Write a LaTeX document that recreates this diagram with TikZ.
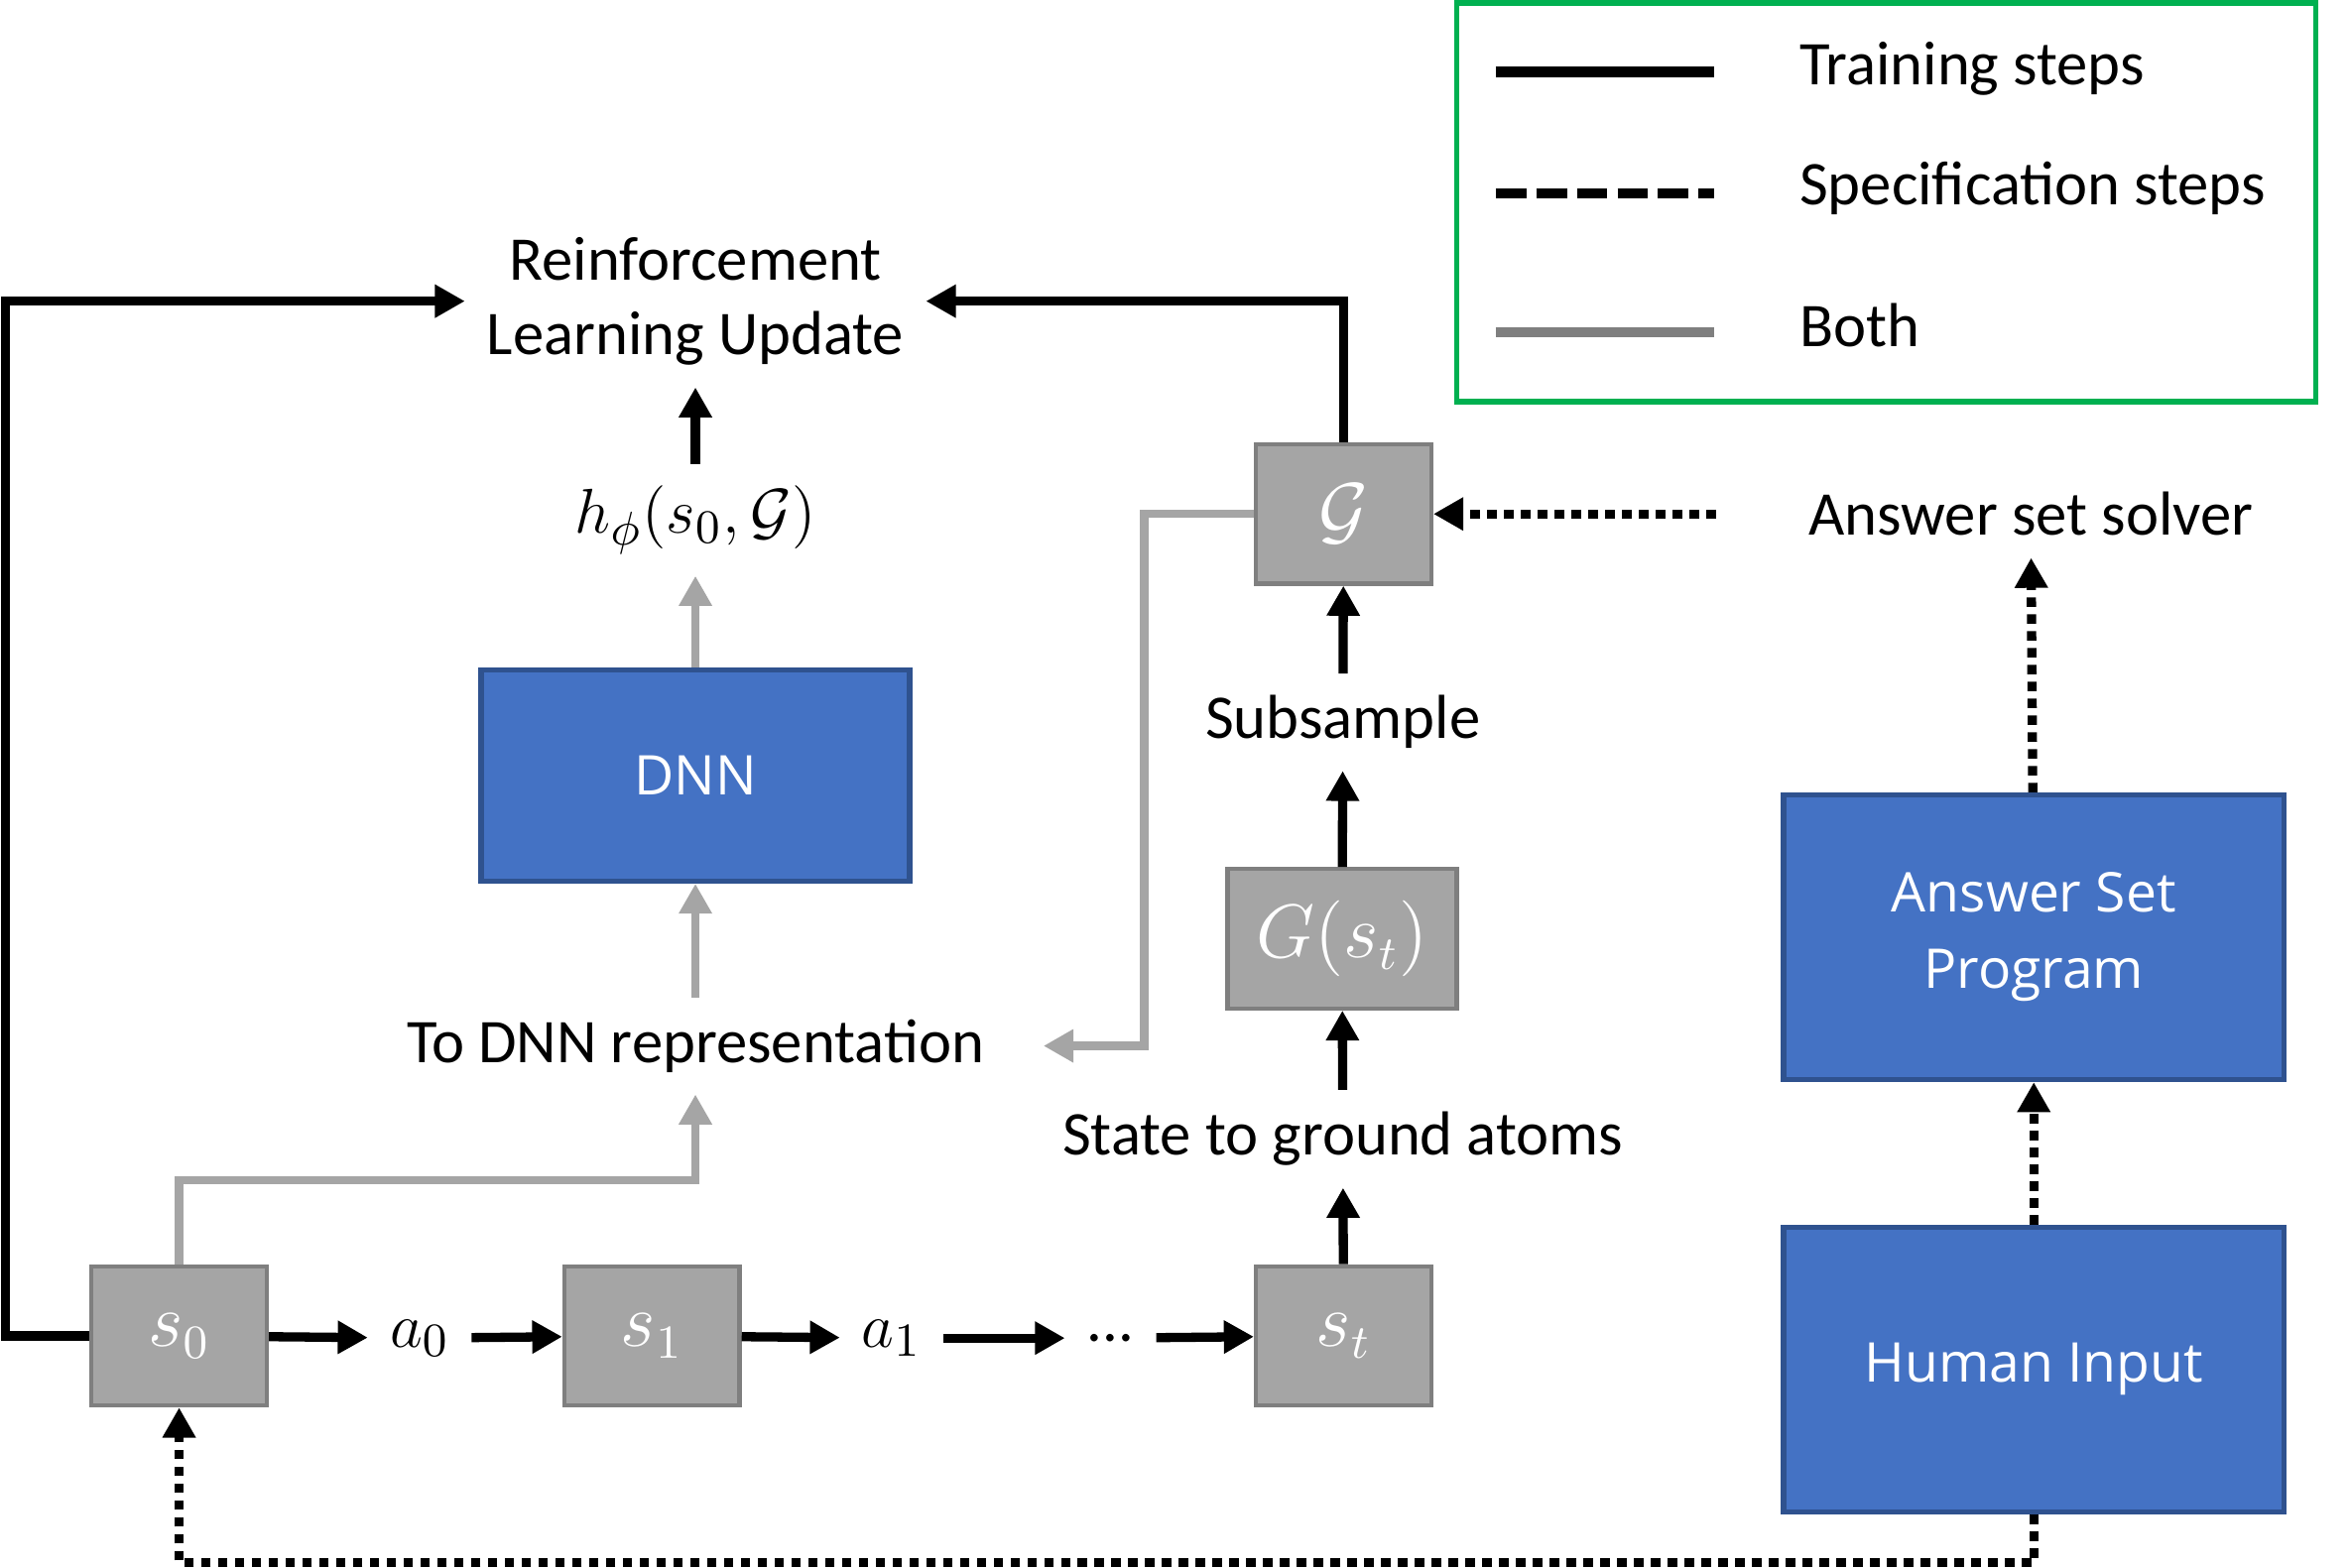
\documentclass[tikz,border=0pt]{standalone}
\usepackage{fontspec}
\setmainfont{Carlito}
\newfontfamily\boxfont{Open Sans}
\usetikzlibrary{arrows.meta}
\definecolor{boxblue}{HTML}{4472C4}
\definecolor{boxedge}{HTML}{2F528F}
\definecolor{stategray}{HTML}{A5A5A5}
\definecolor{stateedge}{HTML}{7F7F7F}
\definecolor{legendgreen}{HTML}{00B050}

\begin{document}
\begin{tikzpicture}[
  lbl/.style={font=\fontsize{11.8}{14.2}\selectfont,align=center,inner sep=4pt},
  mathlbl/.style={font=\fontsize{13}{15}\selectfont,inner sep=4pt},
  statebox/.style={draw=stateedge,fill=stategray,line width=0.8pt,text=white,
    font=\fontsize{13.5}{15}\selectfont,minimum width=1.17cm,minimum height=0.93cm},
  bluebox/.style={draw=boxedge,fill=boxblue,line width=1pt,text=white,
    align=center,font=\boxfont\fontsize{10.4}{14.5}\selectfont,
    minimum width=3.34cm,minimum height=1.9cm},
  train/.style={-{Triangle[length=2mm,width=2.1mm]},line width=1.75pt},
  spec/.style={train,dash pattern=on 1.8pt off 1.4pt},
  both/.style={train,draw=stategray,line width=1.6pt}]
\useasboundingbox (0,0) rectangle (15.68,-10.46);
% legend
\node[draw=legendgreen,line width=1pt,minimum width=5.73cm,minimum height=2.66cm]
  (legend) at (12.585,-1.35) {};
\node[lbl,anchor=west] (lgtrain) at (11.86,-0.46) {Training steps};
\node[lbl,anchor=west] (lgspec) at (11.86,-1.26) {Specification steps};
\node[lbl,anchor=west] (lgboth) at (11.86,-2.17) {Both};
\draw[line width=1.9pt] (9.98,-0.48) -- (11.44,-0.48);
\draw[line width=1.9pt,dash pattern=on 5.8pt off 1.9pt] (9.98,-1.29) -- (11.44,-1.29);
\draw[line width=1.9pt,stateedge] (9.98,-2.22) -- (11.44,-2.22);
% left part
\node[lbl] (rl) at (4.64,-2.01) {Reinforcement\\Learning Update};
\node[mathlbl] (hphi) at (4.64,-3.47) {$h_\phi(s_0,\mathcal{G})$};
\node[bluebox,minimum width=2.86cm,minimum height=1.41cm] (dnn) at (4.64,-5.175) {DNN};
\node[lbl] (todnn) at (4.64,-6.98) {To DNN representation};
% trajectory
\node[statebox] (s0) at (1.195,-8.915) {$s_0$};
\node[mathlbl] (a0) at (2.80,-8.93) {$a_0$};
\node[statebox] (s1) at (4.35,-8.915) {$s_1$};
\node[mathlbl] (a1) at (5.95,-8.93) {$a_1$};
\node[lbl] (dots) at (7.41,-8.93) {...};
\node[statebox] (st) at (8.965,-8.915) {$s_t$};
% grounding column
\node[lbl] (ground) at (8.96,-7.60) {State to ground atoms};
\node[statebox,minimum width=1.53cm] (gst) at (8.955,-6.265) {$G(s_t)$};
\node[lbl] (subsample) at (8.96,-4.82) {Subsample};
\node[statebox] (gcal) at (8.965,-3.43) {$\mathcal{G}$};
% specification column
\node[lbl] (solver) at (13.55,-3.43) {Answer set solver};
\node[bluebox] (asp) at (13.57,-6.255) {Answer Set\\Program};
\node[bluebox] (human) at (13.57,-9.14) {Human Input};
% connectors
\draw[train] (s0.west) -- ++(-0.56,0) |- (rl.west);
\draw[train] (gcal.north) |- (rl.east);
\draw[train] (hphi) -- (rl);
\draw[both] (dnn) -- (hphi);
\draw[both] (todnn) -- (dnn);
\draw[both] (s0.north) -- ++(0,0.56) -| (todnn.south);
\draw[both] (gcal.west) -- ++(-0.73,0) |- ([xshift=0.25cm]todnn.east);
\draw[train] (s0) -- (a0);
\draw[train] (a0) -- (s1);
\draw[train] (s1) -- (a1);
\draw[train] (a1) -- (dots);
\draw[train] (dots) -- (st);
\draw[train] (st) -- (ground);
\draw[train] (ground) -- (gst);
\draw[train] (gst) -- (subsample);
\draw[train] (subsample) -- (gcal);
\draw[spec] ([xshift=-0.47cm]solver.west) -- (gcal.east);
\draw[spec] (asp) -- (solver);
\draw[spec] (human) -- (asp);
\draw[spec] (human.south) -- ++(0,-0.32) -| (s0.south);
\end{tikzpicture}
\end{document}
